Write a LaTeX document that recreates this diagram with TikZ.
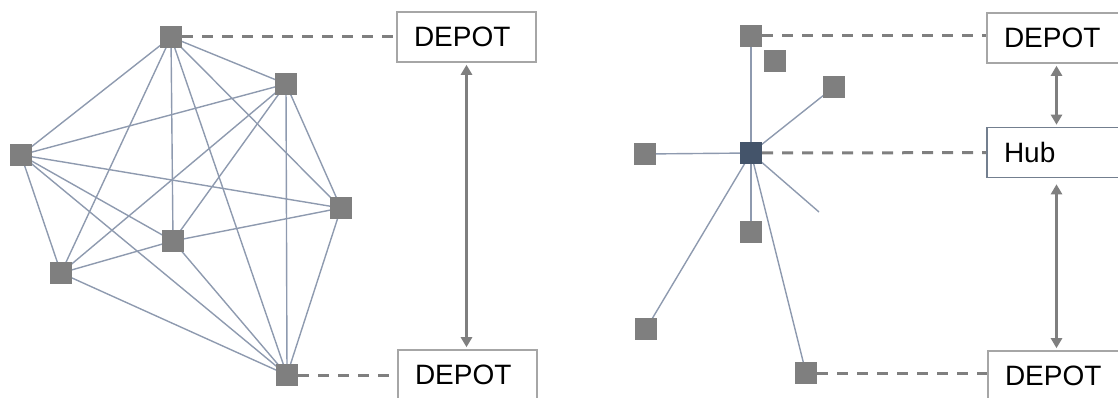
\documentclass[tikz,border=0pt]{standalone}
\usepackage{fontspec}
\setmainfont{Liberation Sans}
\usetikzlibrary{arrows.meta,backgrounds}
\definecolor{ngray}{HTML}{7F7F7F}
\definecolor{hubblue}{HTML}{44546A}
\definecolor{edgec}{HTML}{8E9AAF}
\definecolor{boxc}{HTML}{A6A6A6}
\begin{document}
\begin{tikzpicture}[x=1pt,y=-1pt,
  cust/.style={rectangle,fill=ngray,minimum size=22pt,inner sep=0pt},
  hubn/.style={cust,fill=hubblue},
  box/.style={draw=boxc,line width=1.6pt,fill=white,text width=105pt,inner xsep=17pt,inner ysep=0pt,minimum height=50pt,align=left,font=\fontsize{28}{32}\selectfont},
  hubbox/.style={box,draw=hubblue!75},
  link/.style={draw=edgec,line width=1.4pt},
  dashlink/.style={draw=ngray,line width=3pt,dash pattern=on 11pt off 9pt},
  biarrow/.style={draw=ngray,line width=2.6pt,{Triangle[width=11pt,length=10pt]}-{Triangle[width=11pt,length=10pt]},shorten <=2pt,shorten >=2pt}]
\useasboundingbox (0,0) rectangle (1118,398);
\clip (0,0) rectangle (1118,398);

% ---------- left panel ----------
\node[cust] (n1) at (171,37) {};
\node[cust] (n2) at (286,84) {};
\node[cust] (n3) at (21,155) {};
\node[cust] (n4) at (341,208) {};
\node[cust] (n5) at (173,241) {};
\node[cust] (n6) at (61,273) {};
\node[cust] (n7) at (287,375) {};

\node[box] (d1) at (466.5,37) {DEPOT};
\node[box] (d2) at (467.5,375) {DEPOT};

\begin{pgfonlayer}{background}
\foreach \a/\b in {n1/n2,n1/n3,n1/n4,n1/n5,n1/n6,n1/n7,
                   n2/n3,n2/n4,n2/n5,n2/n6,n2/n7,
                   n3/n4,n3/n5,n3/n6,n3/n7,
                   n4/n5,n4/n7,
                   n5/n6,n5/n7,
                   n6/n7}
  \draw[link] (\a.center) -- (\b.center);
\end{pgfonlayer}

\draw[dashlink] (n1) -- (d1);
\draw[dashlink] (n7) -- (n7 -| d2.west);
\draw[biarrow] (d1.south) -- (d1.south |- d2.north);

% ---------- right panel ----------
\node[hubn] (h) at (751,153) {};
\node[cust] (s1) at (751,36) {};
\node[cust] (s2) at (775,61) {};
\node[cust] (s3) at (834,87) {};
\node[cust] (s4) at (645,154) {};
\node[cust] (s5) at (751,232) {};
\node[cust] (s6) at (646,329) {};
\node[cust] (s7) at (806,373) {};
\coordinate (loose) at (819,212);

\node[box] (e1) at (1056.5,38) {DEPOT};
\node[hubbox] (hb) at (1056.5,152.5) {Hub};
\node[box] (e2) at (1057.5,376) {DEPOT};

\begin{pgfonlayer}{background}
\foreach \b in {s1,s3,s4,s5,s6,s7}
  \draw[link] (h.center) -- (\b.center);
\draw[link] (h.center) -- (loose);
\end{pgfonlayer}

\draw[dashlink] (s1) -- (s1 -| e1.west);
\draw[dashlink] (h) -- (hb);
\draw[dashlink] (s7) -- (s7 -| e2.west);
\draw[biarrow] (e1.south) -- (hb.north);
\draw[biarrow,shorten <=6pt] (hb.south) -- (hb.south |- e2.north);
\end{tikzpicture}
\end{document}
